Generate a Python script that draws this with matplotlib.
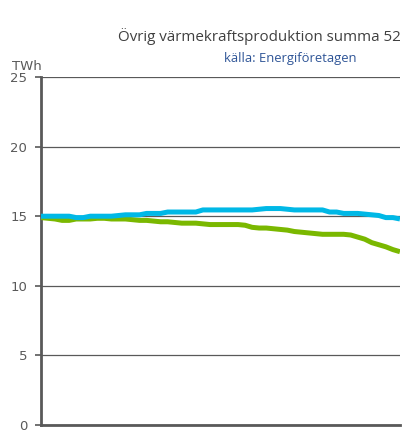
import numpy as np
import matplotlib
matplotlib.use("Agg")
import matplotlib.pyplot as plt

# Data (TWh per week)
weeks = np.arange(1, 53)
cyan_series = [15.0, 15.0, 15.0, 15.0, 15.0, 14.9, 14.9, 15.0, 15.0, 15.0,
               15.0, 15.05, 15.1, 15.1, 15.1, 15.2, 15.2, 15.2, 15.3, 15.3,
               15.3, 15.3, 15.3, 15.45, 15.45, 15.45, 15.45, 15.45, 15.45, 15.45,
               15.45, 15.5, 15.55, 15.55, 15.55, 15.5, 15.45, 15.45, 15.45, 15.45,
               15.45, 15.3, 15.3, 15.2, 15.2, 15.2, 15.15, 15.1, 15.05, 14.9,
               14.9, 14.8]
green_series = [14.9, 14.85, 14.8, 14.7, 14.7, 14.8, 14.8, 14.8, 14.85, 14.85,
                14.8, 14.8, 14.8, 14.75, 14.7, 14.7, 14.65, 14.6, 14.6, 14.55,
                14.5, 14.5, 14.5, 14.45, 14.4, 14.4, 14.4, 14.4, 14.4, 14.35,
                14.2, 14.15, 14.15, 14.1, 14.05, 14.0, 13.9, 13.85, 13.8, 13.75,
                13.7, 13.7, 13.7, 13.7, 13.65, 13.5, 13.35, 13.1, 12.95, 12.8,
                12.6, 12.45]
yticks = [0, 5, 10, 15, 20, 25]

# the reference cuts the title at the right edge of the image
title_str = 'Övrig värmekraftsproduktion summa 52'
source_str = 'källa: Energiföretagen'

fig = plt.figure(figsize=(4.04, 4.36), dpi=100)
ax = fig.add_axes([0.1015, 0.0252, 0.8885, 0.7982])

ax.plot(weeks, green_series, color='#7AB800', linewidth=3.6, solid_capstyle='butt', zorder=3)
ax.plot(weeks, cyan_series, color='#00B8E6', linewidth=3.6, solid_capstyle='butt', zorder=4)

ax.set_xlim(weeks[0], weeks[-1])
ax.set_ylim(0, 25)
ax.set_yticks(yticks)
ax.set_xticks([])
ax.grid(axis='y', color='#595959', linewidth=0.9)
ax.set_axisbelow(True)

for side in ['top', 'right']:
    ax.spines[side].set_visible(False)
ax.spines['left'].set_color('#595959')
ax.spines['left'].set_linewidth(2)
ax.spines['bottom'].set_color('#595959')
ax.spines['bottom'].set_linewidth(2)
ax.tick_params(axis='y', direction='out', length=4, width=1.2, color='#595959',
               labelcolor='#595959', labelsize=9.5, pad=6)

fig.text(0.292, 0.917, title_str, fontsize=10.9, color='#404040',
         family='Open Sans', ha='left', va='center')
fig.text(0.718, 0.866, source_str, fontsize=9.4, color='#2F5597',
         family='Open Sans', ha='center', va='center')
fig.text(0.03, 0.848, 'TWh', fontsize=9.5, color='#595959', ha='left', va='center')

fig.savefig('out.png', dpi=100)
